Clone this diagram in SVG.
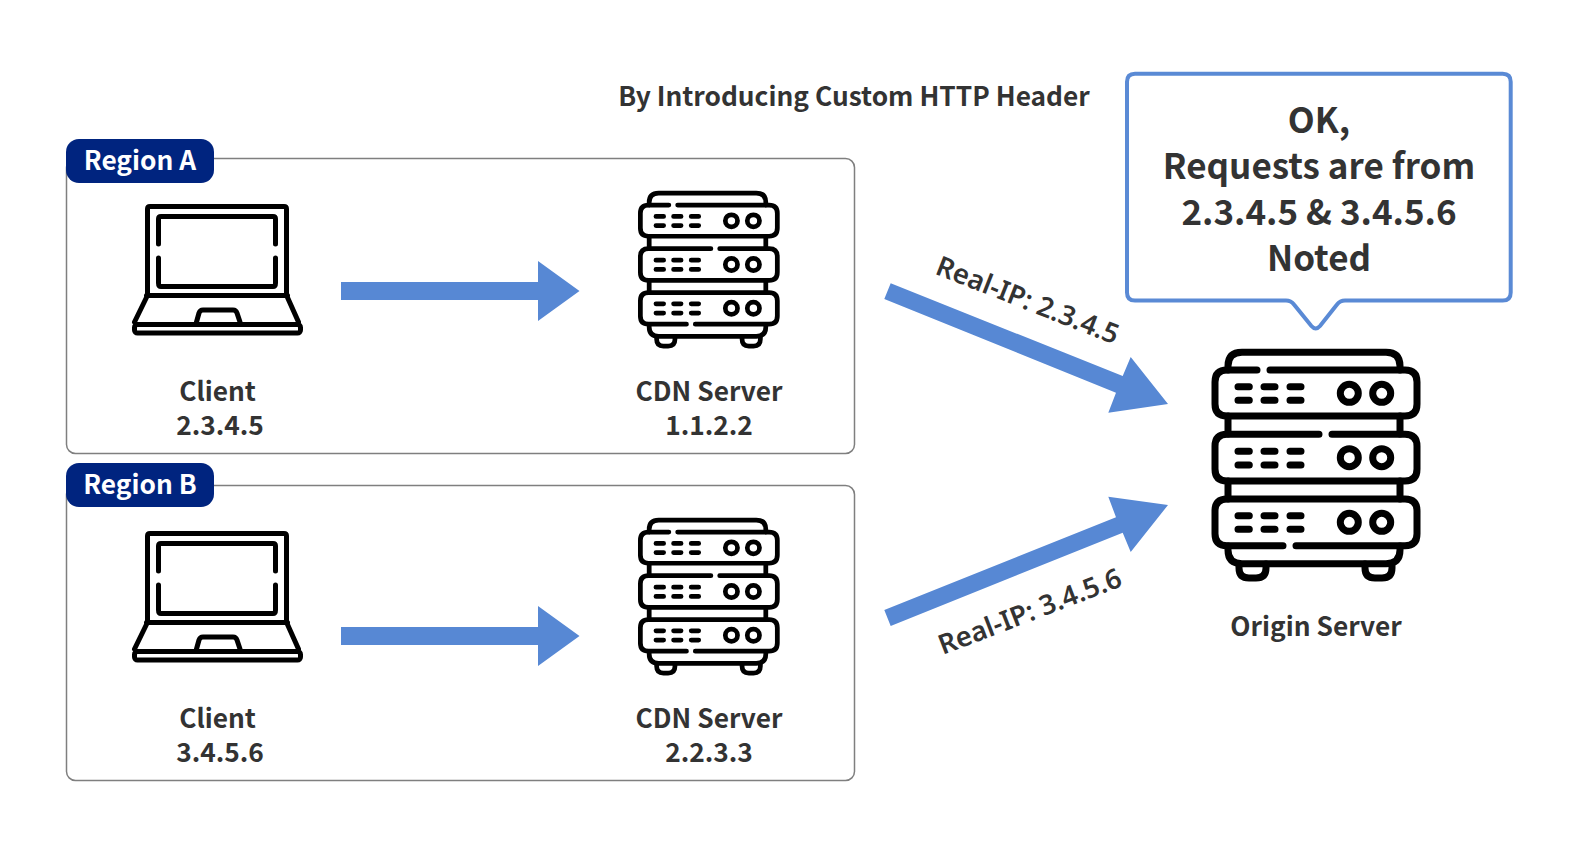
<svg xmlns="http://www.w3.org/2000/svg" xmlns:xlink="http://www.w3.org/1999/xlink" width="1580" height="852" viewBox="0 0 1580 852">
<style>
text{font-family:"Noto Sans CJK KR","Noto Sans",sans-serif;fill:#333;font-weight:700;text-anchor:middle}
.lbl{font-size:26.300px}
.call{font-size:35px}
.badge{fill:#fff;font-size:26.300px}
.rip{font-family:"Noto Sans",sans-serif;font-size:27.500px;font-weight:600;text-anchor:start}
.box{fill:#fff;stroke:#7f7f7f;stroke-width:1.500}
.bd{fill:#00247f}
.arr{fill:#5788d4}
.ic{fill:none;stroke:#000;stroke-linecap:round;stroke-linejoin:round}
</style>
<defs>
<g id="srv" class="ic" stroke-width="7">
<path d="M1228 370V366Q1228 352.300 1242 352.300H1386Q1400 352.300 1400 366V370"/>
<path d="M1257 370H1227Q1215 370 1215 382V404Q1215 416 1227 416H1405Q1417 416 1417 404V382Q1417 370 1405 370H1270"/>
<path d="M1319 434.300H1227Q1215 434.300 1215 446.300V469Q1215 481 1227 481H1405Q1417 481 1417 469V446.300Q1417 434.300 1405 434.300H1332"/>
<path d="M1283 545.700H1227Q1215 545.700 1215 533.700V511Q1215 499 1227 499H1405Q1417 499 1417 511V533.700Q1417 545.700 1405 545.700H1296"/>
<path d="M1228 416V434M1400 416V434M1228 481V499M1400 481V499"/>
<path d="M1228 546V550Q1228 563.700 1242 563.700H1386Q1400 563.700 1400 550V546"/>
<path d="M1239 564V568Q1239 578 1249 578H1256Q1266 578 1266 568V564M1365 564V568Q1365 578 1375 578H1382Q1392 578 1392 568V564"/>
<path d="M1238 386.700H1249.300M1264 386.700H1275M1290 386.700H1301M1238 400.300H1249.300M1264 400.300H1275M1290 400.300H1301"/>
<path d="M1238 451.300H1249.300M1264 451.300H1275M1290 451.300H1301M1238 465H1249.300M1264 465H1275M1290 465H1301"/>
<path d="M1238 515.700H1249.300M1264 515.700H1275M1290 515.700H1301M1238 529.300H1249.300M1264 529.300H1275M1290 529.300H1301"/>
<circle cx="1349.300" cy="393.300" r="9"/><circle cx="1381.700" cy="393.300" r="9"/>
<circle cx="1349.300" cy="457.700" r="9"/><circle cx="1381.700" cy="457.700" r="9"/>
<circle cx="1349.300" cy="522.300" r="9"/><circle cx="1381.700" cy="522.300" r="9"/>
</g>
<g id="lap" class="ic" stroke-width="5">
<path d="M147.500 295V209Q147.500 206.500 150 206.500H284Q286.500 206.500 286.500 209V295"/>
<path d="M146.500 295.500H287.500"/>
<path d="M158.500 244V219Q158.500 216.500 161 216.500H273Q275.500 216.500 275.500 219V244M158.500 258V283Q158.500 286.500 161 286.500H273Q275.500 286.500 275.500 283V258"/>
<path d="M146.700 297L134.500 322M287.300 297L298.500 322"/>
<rect x="134.500" y="324.500" width="166" height="8.500" rx="3"/>
<path d="M196.500 322L199 313Q200 310 203 310H233Q236 310 237 313L240 322"/>
</g>
</defs>
<g id="region-a"><rect class="box" x="66.500" y="158.500" width="788" height="295" rx="9"/></g>
<g id="region-b"><rect class="box" x="66.500" y="485.500" width="788" height="295" rx="9"/></g>
<g id="region-a-label"><rect class="bd" x="66" y="139" width="148" height="44" rx="13"/><text class="badge" x="140" y="170">Region A</text></g>
<g id="region-b-label"><rect class="bd" x="66" y="463" width="148" height="44" rx="13"/><text class="badge" x="140" y="494">Region B</text></g>
<g id="title"><text class="lbl" x="854" y="106">By Introducing Custom HTTP Header</text></g>
<g id="client-a"><use href="#lap"/><text class="lbl" x="217.500" y="401">Client</text><text class="lbl" x="220" y="435">2.3.4.5</text></g>
<g id="client-b"><use href="#lap" y="327"/><text class="lbl" x="217.500" y="728">Client</text><text class="lbl" x="220" y="762">3.4.5.6</text></g>
<g id="cdn-a"><use href="#srv" transform="translate(-183.400,-45.800) scale(.678)"/><text class="lbl" x="709" y="401">CDN Server</text><text class="lbl" x="709" y="435">1.1.2.2</text></g>
<g id="cdn-b"><use href="#srv" transform="translate(-183.400,281.200) scale(.678)"/><text class="lbl" x="709" y="728">CDN Server</text><text class="lbl" x="709" y="762">2.2.3.3</text></g>
<g id="origin"><use href="#srv"/><text class="lbl" x="1316" y="636">Origin Server</text></g>
<g id="callout">
<path d="M1135 73.700H1502.700Q1510.700 73.700 1510.700 81.700V292.500Q1510.700 300.500 1502.700 300.500H1345Q1340 300.500 1337 304.500L1320 326Q1315.700 331 1311.400 326L1294 304.500Q1291 300.500 1286 300.500H1135Q1127 300.500 1127 292.500V81.700Q1127 73.700 1135 73.700Z" fill="#fff" stroke="#5a8ad5" stroke-width="4"/>
<text class="call" x="1319" y="133">OK,</text>
<text class="call" x="1319" y="178.500">Requests are from</text>
<text class="call" x="1319" y="224.500">2.3.4.5 &amp; 3.4.5.6</text>
<text class="call" x="1319" y="270.500">Noted</text>
</g>
<g id="connectors">
<path class="arr" d="M341 282H538V261L579.500 291L538 321V300H341Z"/>
<path class="arr" d="M341 627H538V606L579.500 636L538 666V645H341Z"/>
<path class="arr" d="M890.700 283.300L1122.700 376L1130.700 357L1168 404L1108.300 412.700L1116 392.700L884.300 299Z"/>
<path class="arr" d="M884.300 610L1116 517.300L1108.300 496.700L1168 505L1130.700 552L1122.700 532.700L890.700 626Z"/>
<text class="rip" transform="translate(934,273.500) rotate(21.500)">Real-IP: 2.3.4.5</text>
<text class="rip" transform="translate(942.700,655) rotate(-21)">Real-IP: 3.4.5.6</text>
</g>
</svg>
